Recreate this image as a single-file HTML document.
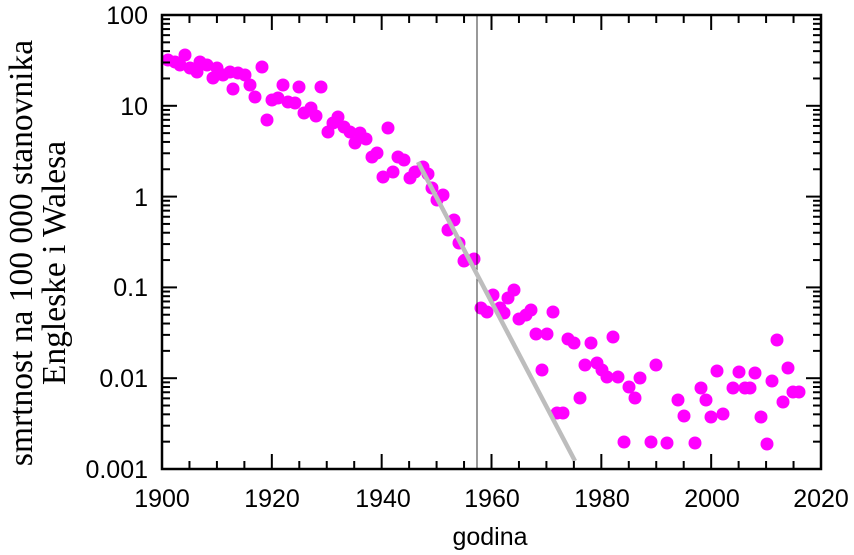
<!DOCTYPE html>
<html><head><meta charset="utf-8"><style>
html,body{margin:0;padding:0;background:#fff;}
svg{display:block;}
.s{font-family:"Liberation Sans",Arial,sans-serif;}
.r{font-family:"Liberation Serif","Times New Roman",serif;}
</style></head><body>
<svg id="s" width="854" height="555" xmlns="http://www.w3.org/2000/svg">
<rect width="854" height="555" fill="#fff"/>
<g id="pts" fill="#ff00ff"></g>
<line x1="477" y1="15" x2="477" y2="469" stroke="#000" stroke-width="0.8"/>
<line x1="418" y1="162" x2="575" y2="461" stroke="#bdbdbd" stroke-width="4.5"/>
<g id="ticks" stroke="#000" stroke-width="2"></g>
<rect x="162" y="15" width="659" height="454" fill="none" stroke="#000" stroke-width="2.5"/>
<g class="s" font-size="25" text-anchor="end" fill="#000">
<text x="148" y="24">100</text>
<text x="148" y="115">10</text>
<text x="148" y="206">1</text>
<text x="148" y="296">0.1</text>
<text x="148" y="387">0.01</text>
<text x="148" y="478">0.001</text>
</g>
<g class="s" font-size="25" text-anchor="middle" fill="#000">
<text x="162" y="507">1900</text>
<text x="272" y="507">1920</text>
<text x="383" y="507">1940</text>
<text x="492" y="507">1960</text>
<text x="602" y="507">1980</text>
<text x="712" y="507">2000</text>
<text x="821" y="507">2020</text>
<text x="490" y="545">godina</text>
</g>
<g class="r" font-size="33.5" text-anchor="middle" fill="#000">
<text transform="translate(32,253) rotate(-90)">smrtnost na 100 000 stanovnika</text>
<text transform="translate(65,263) rotate(-90)">Engleske i Walesa</text>
</g>
</svg>
<script>
var P=[[168,60],[175,62],[185,55],[180,65],[190,68],[197,72],[200,62],[207,65],[213,78],[217,68],[223,75],[230,72],[233,89],[238,73],[245,75],[250,85],[255,97],[262,67],[267,120],[272,100],[278,98],[283,85],[288,102],[295,103],[299,87],[304,113],[311,108],[316,116],[321,87],[328,132],[333,123],[338,117],[344,127],[350,132],[355,143],[360,133],[366,139],[372,157],[377,153],[383,177],[388,128],[393,172],[398,157],[404,160],[410,178],[415,172],[423,167],[428,174],[432,188],[437,200],[443,195],[448,230],[454,220],[459,243],[465,260],[474,259],[464,261],[481,308],[487,312],[493,295],[500,308],[504,313],[508,298],[514,290],[519,319],[526,315],[531,310],[536,334],[542,370],[547,334],[553,312],[557,413],[563,413],[568,339],[574,343],[580,398],[585,365],[591,343],[597,363],[602,370],[607,377],[613,337],[618,377],[624,442],[629,387],[635,398],[640,378],[651,442],[656,365],[667,443],[678,400],[684,416],[695,443],[701,388],[706,400],[711,417],[717,371],[723,414],[733,388],[739,372],[745,388],[750,388],[755,373],[761,417],[767,444],[772,381],[777,340],[783,402],[788,368],[793,392],[799,392]];
var NS="http://www.w3.org/2000/svg",g=document.getElementById("pts");
P.forEach(function(p){var c=document.createElementNS(NS,"circle");c.setAttribute("cx",p[0]);c.setAttribute("cy",p[1]);c.setAttribute("r",6.5);g.appendChild(c);});
var t=document.getElementById("ticks");
function L(a,b,c,d){var l=document.createElementNS(NS,"line");l.setAttribute("x1",a);l.setAttribute("y1",b);l.setAttribute("x2",c);l.setAttribute("y2",d);t.appendChild(l);}
for(var y=1900;y<=2020;y+=5){var x=162+(y-1900)*659/120,len=(y%20==0)?15:8;L(x,469,x,469-len);L(x,15,x,15+len);}
for(var d=0;d<5;d++){for(var k=1;k<10;k++){var yy=469-(d+Math.log10(k))*90.8,len=(k==1)?15:8;L(162,yy,162+len,yy);L(821,yy,821-len,yy);}}
</script>
</body></html>
